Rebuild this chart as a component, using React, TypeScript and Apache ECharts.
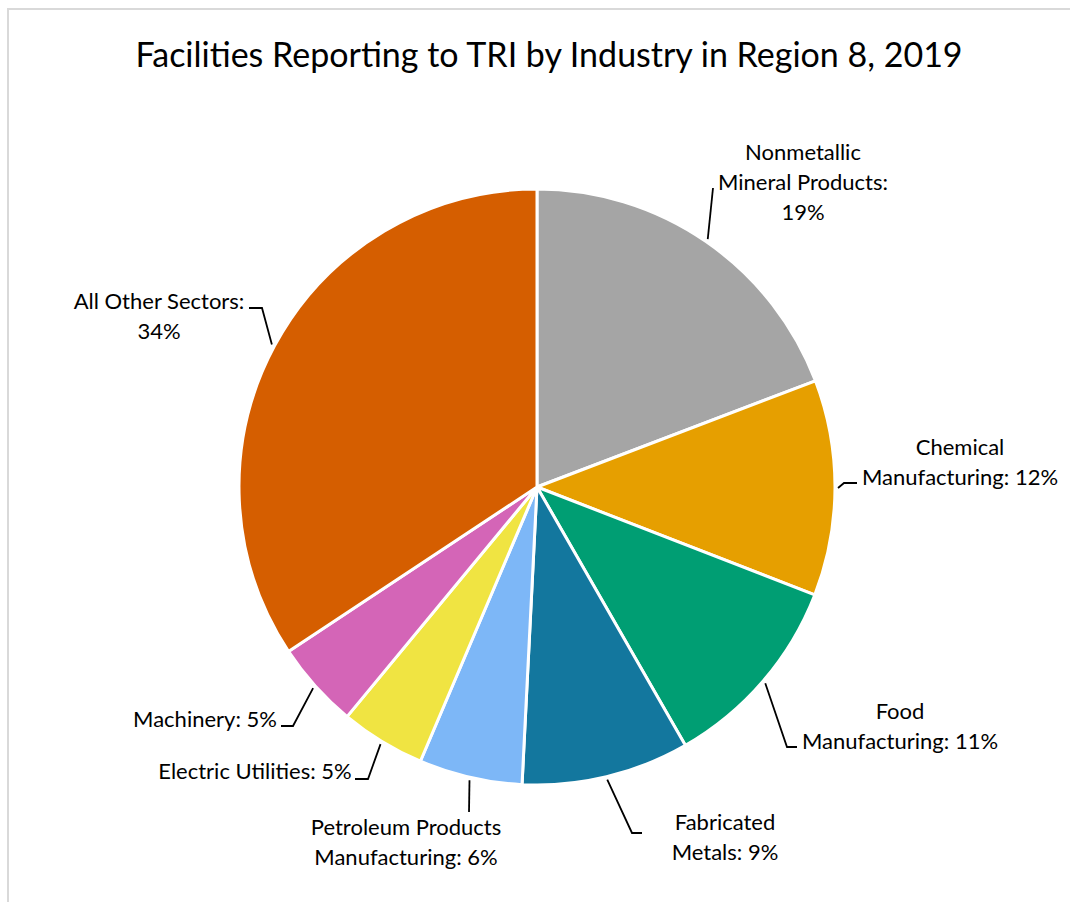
import React, { useEffect, useRef } from "react";
import * as echarts from "echarts";

const TITLE = "Facilities Reporting to TRI by Industry in Region 8, 2019";

const categories = [
  "Nonmetallic Mineral Products",
  "Chemical Manufacturing",
  "Food Manufacturing",
  "Fabricated Metals",
  "Petroleum Products Manufacturing",
  "Electric Utilities",
  "Machinery",
  "All Other Sectors",
];

// estimated shares (percent)
const shares = [19.2, 11.7, 10.8, 9.1, 5.6, 4.6, 4.7, 34.3];

const labelTemplates = [
  "Nonmetallic\nMineral Products:\n{p}%",
  "Chemical\nManufacturing: {p}%",
  "Food\nManufacturing: {p}%",
  "Fabricated\nMetals: {p}%",
  "Petroleum Products\nManufacturing: {p}%",
  "Electric Utilities: {p}%",
  "Machinery: {p}%",
  "All Other Sectors:\n{p}%",
];

const colors = [
  "#A5A5A5",
  "#E69F00",
  "#009E73",
  "#13779E",
  "#7DB7F7",
  "#F0E442",
  "#D465B7",
  "#D55E00",
];

// label layout (text centre, leader elbow, leader end)
const labelCenters: [number, number][] = [
  [803, 181],
  [960, 461],
  [900, 725],
  [725, 836],
  [406, 841],
  [255, 770],
  [205, 718],
  [159, 315],
];
const leaderElbows: [number, number][] = [
  [713, 188],
  [844, 483],
  [787, 747],
  [632, 833],
  [469, 812],
  [368, 779],
  [293, 726],
  [262, 308],
];
const leaderEnds: [number, number][] = [
  [713, 188],
  [857, 483],
  [797, 747],
  [642, 833],
  [469, 812],
  [355, 779],
  [281, 726],
  [249, 308],
];

const CX = 537;
const CY = 487;
const R = 298;
const FONT = "Lato, 'Open Sans', sans-serif";

export default function App() {
  const ref = useRef<HTMLDivElement>(null);
  useEffect(() => {
    if (!ref.current) return;
    const chart = echarts.init(ref.current, null, { renderer: "svg" });
    const total = shares.reduce((a, b) => a + b, 0);
    const mids: number[] = [];
    let acc = 0;
    shares.forEach((v) => {
      mids.push(((acc + v / 2) / total) * Math.PI * 2);
      acc += v;
    });
    chart.setOption({
      animation: false,
      backgroundColor: "#ffffff",
      title: {
        text: TITLE,
        left: 544,
        top: 31,
        textAlign: "center",
        textStyle: {
          fontFamily: FONT,
          fontSize: 34,
          fontWeight: "normal",
          color: "#000000",
        },
      },
      series: [
        {
          type: "pie",
          center: [CX, CY],
          radius: R,
          startAngle: 90,
          clockwise: true,
          avoidLabelOverlap: false,
          itemStyle: { borderColor: "#ffffff", borderWidth: 3 },
          label: {
            show: true,
            position: "outside",
            color: "#000000",
            fontFamily: FONT,
            fontSize: 22,
            lineHeight: 30,
            align: "center",
            formatter: (p: any) =>
              labelTemplates[p.dataIndex].replace(
                "{p}",
                String(Math.round((shares[p.dataIndex] / total) * 100))
              ),
          },
          labelLine: {
            show: true,
            lineStyle: { color: "#000000", width: 1.8 },
          },
          labelLayout: (params: any) => {
            const i = params.dataIndex;
            const a = mids[i];
            const start = [CX + (R + 3) * Math.sin(a), CY - (R + 3) * Math.cos(a)];
            return {
              x: labelCenters[i][0],
              y: labelCenters[i][1],
              align: "center",
              verticalAlign: "middle",
              labelLinePoints: [start, leaderElbows[i], leaderEnds[i]],
            };
          },
          emphasis: { disabled: true },
          data: categories.map((name, i) => ({
            name,
            value: shares[i],
            itemStyle: { color: colors[i] },
          })),
        },
      ],
    });
    return () => chart.dispose();
  }, []);

  return (
    <div
      style={{
        position: "absolute",
        left: 0,
        top: 0,
        width: 1070,
        height: 902,
        overflow: "hidden",
        background: "#ffffff",
      }}
    >
      <div
        ref={ref}
        style={{ position: "absolute", left: 0, top: 0, width: 1070, height: 902 }}
      />
      <div
        style={{
          position: "absolute",
          left: 7,
          top: 8,
          width: 1200,
          height: 1200,
          border: "2px solid #D9D9D9",
          boxSizing: "border-box",
          pointerEvents: "none",
        }}
      />
    </div>
  );
}
